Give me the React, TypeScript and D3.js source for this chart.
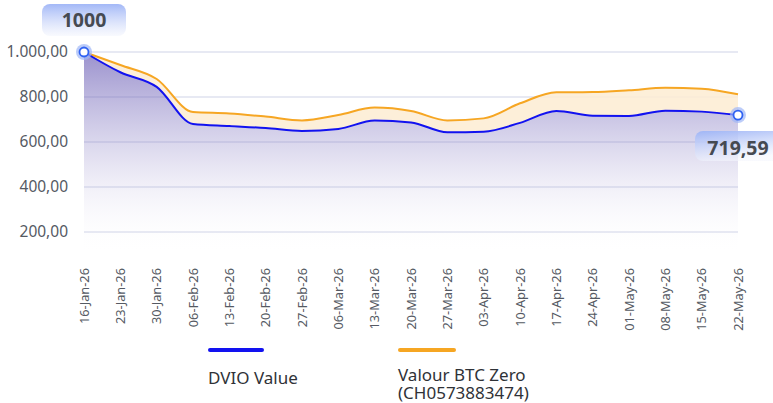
import React, { useEffect, useRef } from 'react';
import * as d3 from 'd3';

const dates = [
  '16-Jan-26', '23-Jan-26', '30-Jan-26', '06-Feb-26', '13-Feb-26', '20-Feb-26', '27-Feb-26',
  '06-Mar-26', '13-Mar-26', '20-Mar-26', '27-Mar-26', '03-Apr-26', '10-Apr-26', '17-Apr-26',
  '24-Apr-26', '01-May-26', '08-May-26', '15-May-26', '22-May-26',
];
const dvioValues = [
  1000, 910, 845, 680, 671, 662, 649, 658, 695, 687, 643, 646, 685, 738, 717, 716, 739, 735, 719.59,
];
const valourValues = [
  1000, 942, 880, 733, 727, 713, 696, 720, 753, 738, 696, 705, 772, 821, 822, 830, 841, 837, 812,
];
const yTicks = [200, 400, 600, 800, 1000];
const seriesNames = ['DVIO Value', 'Valour BTC Zero', '(CH0573883474)'];

const FONT = "'Noto Sans', sans-serif";
const BLUE = '#1212f0';
const ORANGE = '#f6a623';

const App: React.FC = () => {
  const chartRef = useRef<SVGSVGElement | null>(null);

  useEffect(() => {
    const svg = d3.select(chartRef.current);
    svg.selectAll('*').remove();

    const width = 773;
    const height = 403;
    svg.attr('width', width).attr('height', height);

    const x = d3.scalePoint<string>().domain(dates).range([84, 738]);
    const y = d3.scaleLinear().domain([0, 1000]).range([277, 52]);
    const baseline = y(100);

    const rows = dates.map((d, i) => ({ d, a: dvioValues[i], b: valourValues[i] }));

    const defs = svg.append('defs');
    const purple = defs
      .append('linearGradient')
      .attr('id', 'purpleFill')
      .attr('gradientUnits', 'userSpaceOnUse')
      .attr('x1', 0).attr('y1', 52).attr('x2', 0).attr('y2', baseline);
    purple.append('stop').attr('offset', '0%').attr('stop-color', '#6456b2').attr('stop-opacity', 0.65);
    purple.append('stop').attr('offset', '55%').attr('stop-color', '#8c82c6').attr('stop-opacity', 0.22);
    purple.append('stop').attr('offset', '100%').attr('stop-color', '#ffffff').attr('stop-opacity', 0);

    const bubble1 = defs
      .append('linearGradient')
      .attr('id', 'bubble1')
      .attr('x1', 0).attr('y1', 0).attr('x2', 0).attr('y2', 1);
    bubble1.append('stop').attr('offset', '0%').attr('stop-color', '#a3b8f7');
    bubble1.append('stop').attr('offset', '100%').attr('stop-color', '#f4f6fd').attr('stop-opacity', 0.6);

    const bubble2 = defs
      .append('linearGradient')
      .attr('id', 'bubble2')
      .attr('x1', 0).attr('y1', 0).attr('x2', 0.3).attr('y2', 1);
    bubble2.append('stop').attr('offset', '0%').attr('stop-color', '#9fb5f6');
    bubble2.append('stop').attr('offset', '100%').attr('stop-color', '#f4f6fd').attr('stop-opacity', 0.6);

    // grid lines
    svg
      .append('g')
      .selectAll('line')
      .data(yTicks)
      .enter()
      .append('line')
      .attr('x1', 84)
      .attr('x2', 738)
      .attr('y1', (d) => y(d))
      .attr('y2', (d) => y(d))
      .attr('stroke', '#dfe2ef')
      .attr('stroke-width', 1.5);

    // y labels
    const fmt = d3.formatLocale({ decimal: ',', thousands: '.', grouping: [3], currency: ['', '€'] }).format(',.2f');
    svg
      .append('g')
      .selectAll('text')
      .data(yTicks)
      .enter()
      .append('text')
      .attr('x', 68)
      .attr('y', (d) => y(d))
      .attr('dy', '0.35em')
      .attr('text-anchor', 'end')
      .attr('font-family', FONT)
      .attr('font-size', 15.5)
      .attr('fill', '#555a63')
      .text((d) => fmt(d));

    // x labels
    svg
      .append('g')
      .selectAll('text')
      .data(dates)
      .enter()
      .append('text')
      .attr('transform', (d) => `translate(${x(d)! + 4.5},268) rotate(-90)`)
      .attr('text-anchor', 'end')
      .attr('font-family', FONT)
      .attr('font-size', 12.8)
      .attr('fill', '#555a63')
      .text((d) => d);

    const curve = d3.curveMonotoneX;

    // orange band between the two series
    const band = d3
      .area<{ d: string; a: number; b: number }>()
      .x((r) => x(r.d)!)
      .y0((r) => y(r.a))
      .y1((r) => y(r.b))
      .curve(curve);
    svg.append('path').datum(rows).attr('d', band).attr('fill', '#fdecd2').attr('opacity', 0.85);

    // purple area under DVIO
    const under = d3
      .area<{ d: string; a: number; b: number }>()
      .x((r) => x(r.d)!)
      .y0(baseline)
      .y1((r) => y(r.a))
      .curve(curve);
    svg.append('path').datum(rows).attr('d', under).attr('fill', 'url(#purpleFill)');

    const lineB = d3
      .line<{ d: string; a: number; b: number }>()
      .x((r) => x(r.d)!)
      .y((r) => y(r.b))
      .curve(curve);
    svg.append('path').datum(rows).attr('d', lineB).attr('fill', 'none').attr('stroke', ORANGE).attr('stroke-width', 2);

    const lineA = d3
      .line<{ d: string; a: number; b: number }>()
      .x((r) => x(r.d)!)
      .y((r) => y(r.a))
      .curve(curve);
    svg.append('path').datum(rows).attr('d', lineA).attr('fill', 'none').attr('stroke', BLUE).attr('stroke-width', 2);

    // end markers
    const ends = [rows[0], rows[rows.length - 1]];
    svg
      .append('g')
      .selectAll('circle')
      .data(ends)
      .enter()
      .append('circle')
      .attr('cx', (r) => x(r.d)!)
      .attr('cy', (r) => y(r.a))
      .attr('r', 8)
      .attr('fill', '#9fb6f6')
      .attr('opacity', 0.7);
    svg
      .append('g')
      .selectAll('circle')
      .data(ends)
      .enter()
      .append('circle')
      .attr('cx', (r) => x(r.d)!)
      .attr('cy', (r) => y(r.a))
      .attr('r', 4.5)
      .attr('fill', '#ffffff')
      .attr('stroke', '#2f62f2')
      .attr('stroke-width', 1.8);

    // value bubbles
    const first = rows[0];
    const last = rows[rows.length - 1];
    const fx = x(first.d)!;
    svg.append('rect').attr('x', fx - 42).attr('y', 4).attr('width', 84).attr('height', 32).attr('rx', 8).attr('fill', 'url(#bubble1)');
    svg
      .append('text')
      .attr('x', fx)
      .attr('y', 27)
      .attr('text-anchor', 'middle')
      .attr('font-family', FONT)
      .attr('font-size', 19.5)
      .attr('font-weight', 700)
      .attr('fill', '#464a52')
      .text(d3.format('d')(first.a));

    const lx = x(last.d)!;
    svg.append('rect').attr('x', lx - 43).attr('y', 131).attr('width', 86).attr('height', 30).attr('rx', 8).attr('fill', 'url(#bubble2)');
    svg
      .append('text')
      .attr('x', lx)
      .attr('y', 155)
      .attr('text-anchor', 'middle')
      .attr('font-family', FONT)
      .attr('font-size', 19.5)
      .attr('font-weight', 700)
      .attr('fill', '#464a52')
      .text(d3.format('.2f')(last.a).replace('.', ','));

    // legend
    const legend = svg.append('g').attr('font-family', FONT).attr('font-size', 17).attr('fill', '#2f3237');
    legend.append('line').attr('x1', 210).attr('x2', 262).attr('y1', 350).attr('y2', 350).attr('stroke', BLUE).attr('stroke-width', 4).attr('stroke-linecap', 'round');
    legend.append('text').attr('x', 208).attr('y', 384).text(seriesNames[0]);
    legend.append('line').attr('x1', 400).attr('x2', 454).attr('y1', 350).attr('y2', 350).attr('stroke', ORANGE).attr('stroke-width', 4).attr('stroke-linecap', 'round');
    legend.append('text').attr('x', 398).attr('y', 381).text(seriesNames[1]);
    legend.append('text').attr('x', 398).attr('y', 399).text(seriesNames[2]);
  }, []);

  return <svg ref={chartRef} style={{ position: 'absolute', left: 0, top: 0 }}></svg>;
};

export default App;
